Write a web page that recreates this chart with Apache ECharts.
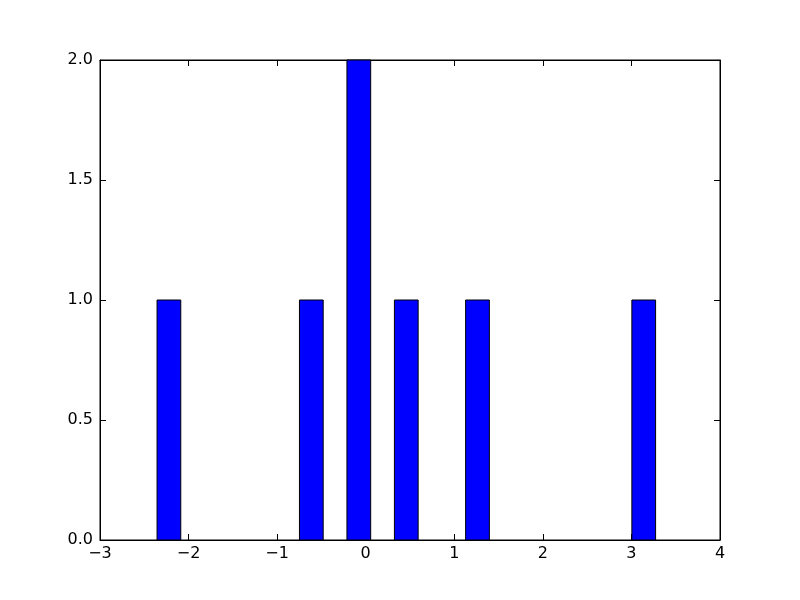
<!DOCTYPE html>
<html>
<head>
<meta charset="utf-8">
<script src="https://cdn.jsdelivr.net/npm/echarts@6/dist/echarts.min.js"></script>
<style>html,body{margin:0;padding:0;background:#fff}#c{width:800px;height:600px}</style>
</head>
<body>
<div id="c"></div>
<script>
// Histogram bins (data units) and counts
const binLefts  = [-2.356, -0.748, -0.212, 0.324, 1.128, 3.005];
const binRights = [-2.088, -0.480, 0.056, 0.592, 1.396, 3.273];
const counts    = [1, 1, 2, 1, 1, 1];
const xTicks = [-3, -2, -1, 0, 1, 2, 3, 4];
const yTicks = [0.0, 0.5, 1.0, 1.5, 2.0];

const data = binLefts.map((l, i) => [l, binRights[i], counts[i]]);
const fmtX = v => String(v).replace('-', '\u2212');
const fmtY = v => v.toFixed(1);
const font = 'DejaVu Sans';

const chart = echarts.init(document.getElementById('c'), null, {renderer: 'canvas'});
chart.setOption({
  animation: false,
  backgroundColor: '#fff',
  grid: {left: 100, right: 80, top: 60, bottom: 60, show: true, borderColor: '#000', borderWidth: 1, backgroundColor: 'transparent'},
  xAxis: [
    {type: 'value', min: xTicks[0], max: xTicks[xTicks.length-1], interval: 1, position: 'bottom',
     axisLine: {show: true, onZero: false, lineStyle: {color: '#000', width: 1}},
     axisTick: {show: true, inside: true, length: 6, lineStyle: {color: '#000'}},
     axisLabel: {color: '#000', fontFamily: font, fontSize: 16, margin: 6, formatter: fmtX},
     splitLine: {show: false}},
    {type: 'value', min: xTicks[0], max: xTicks[xTicks.length-1], interval: 1, position: 'top',
     axisLine: {show: true, onZero: false, lineStyle: {color: '#000', width: 1}},
     axisTick: {show: true, inside: true, length: 6, lineStyle: {color: '#000'}},
     axisLabel: {show: false}, splitLine: {show: false}}
  ],
  yAxis: [
    {type: 'value', min: yTicks[0], max: yTicks[yTicks.length-1], interval: 0.5, position: 'left',
     axisLine: {show: true, onZero: false, lineStyle: {color: '#000', width: 1}},
     axisTick: {show: true, inside: true, length: 6, lineStyle: {color: '#000'}},
     axisLabel: {color: '#000', fontFamily: font, fontSize: 16, margin: 7, formatter: fmtY},
     splitLine: {show: false}},
    {type: 'value', min: yTicks[0], max: yTicks[yTicks.length-1], interval: 0.5, position: 'right',
     axisLine: {show: true, onZero: false, lineStyle: {color: '#000', width: 1}},
     axisTick: {show: true, inside: true, length: 6, lineStyle: {color: '#000'}},
     axisLabel: {show: false}, splitLine: {show: false}}
  ],
  series: [{
    type: 'custom',
    xAxisIndex: 0, yAxisIndex: 0,
    data: data,
    encode: {x: [0, 1], y: 2},
    renderItem: function (params, api) {
      const p0 = api.coord([api.value(0), api.value(2)]);
      const p1 = api.coord([api.value(1), 0]);
      return {
        type: 'rect',
        shape: {x: p0[0], y: p0[1], width: p1[0] - p0[0], height: p1[1] - p0[1]},
        style: {fill: '#0000ff', stroke: '#000', lineWidth: 1}
      };
    }
  }]
});
</script>
</body>
</html>
